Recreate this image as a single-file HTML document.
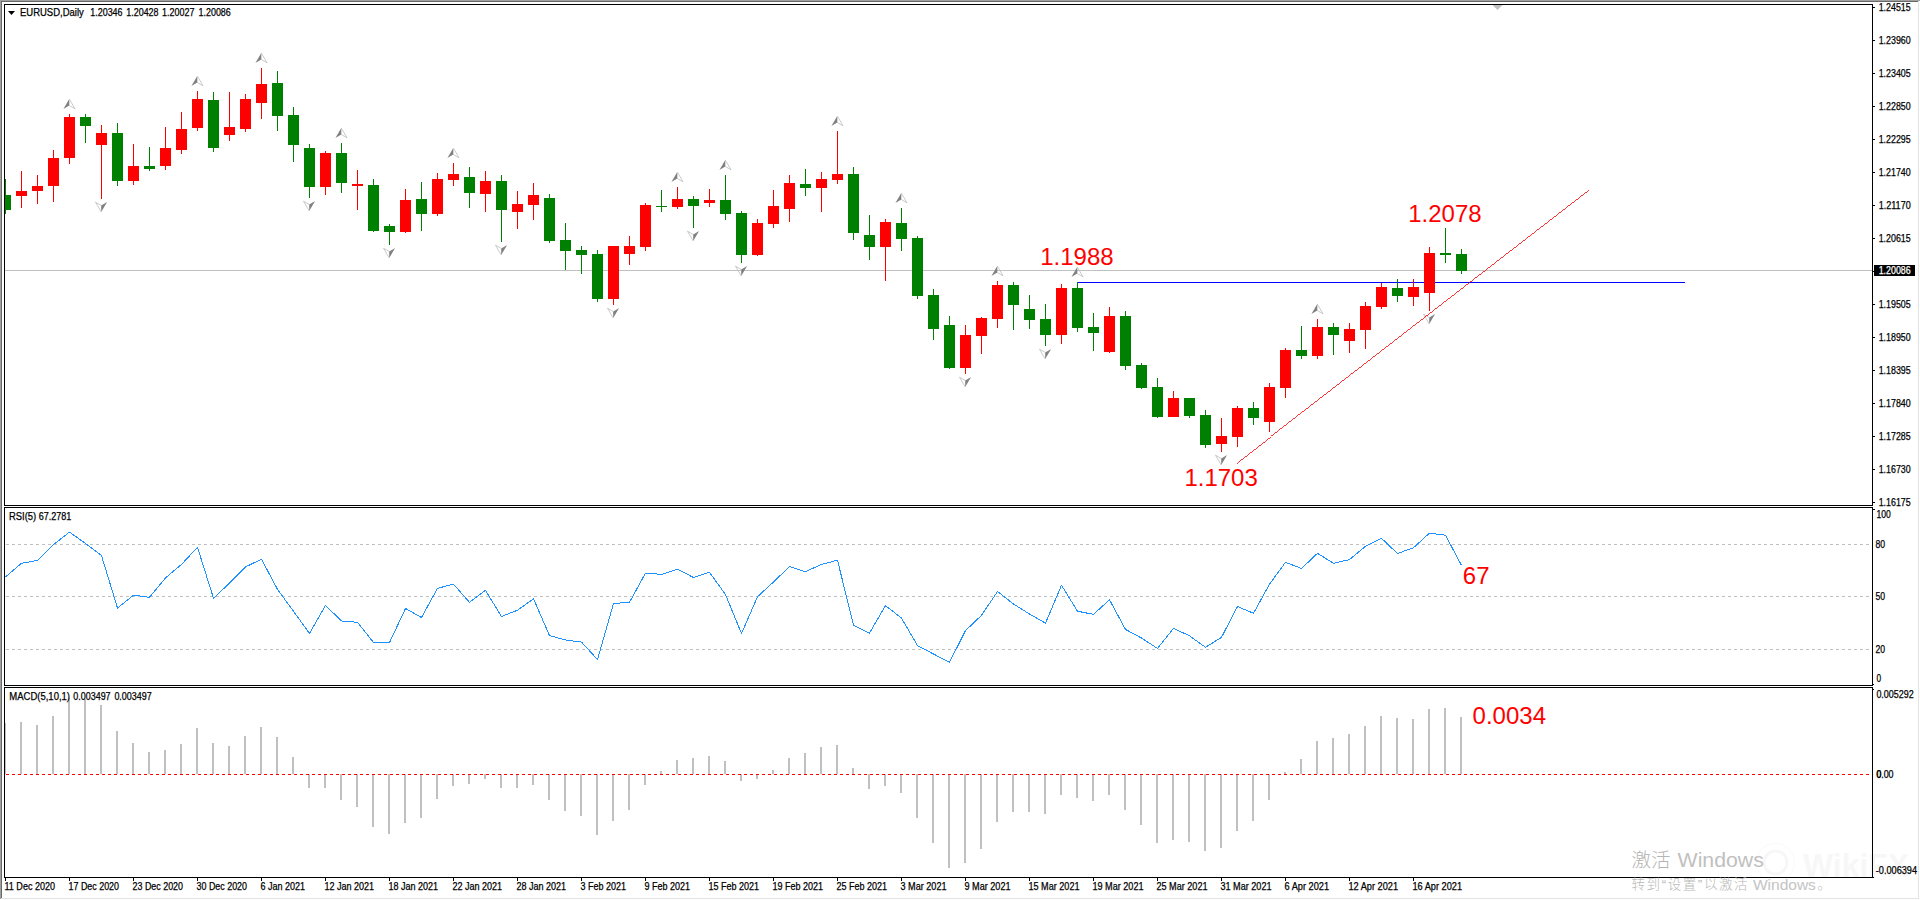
<!DOCTYPE html>
<html lang="zh"><head><meta charset="utf-8"><title>EURUSD,Daily</title>
<style>html,body{margin:0;padding:0;background:#fff;overflow:hidden}body{width:1920px;height:900px;position:relative}</style></head>
<body>
<svg width="1920" height="900" viewBox="0 0 1920 900" style="position:absolute;left:0;top:0">
<rect width="1920" height="900" fill="#fff"/>
<g font-family="'Liberation Sans', sans-serif"><circle cx="1775.5" cy="862.5" r="11.5" fill="none" stroke="#f7f7f7" stroke-width="3"/><circle cx="1775.5" cy="862.5" r="19" fill="none" stroke="#fbfbfb" stroke-width="1.5"/><text x="1803" y="877" font-size="33" font-weight="bold" fill="#f7f7f7" textLength="106" lengthAdjust="spacingAndGlyphs">WikiFX</text></g>
<g shape-rendering="crispEdges">
<rect x="0" y="0" width="1920" height="1" fill="#a0a0a0"/><rect x="0" y="0" width="1" height="899" fill="#a0a0a0"/>
<rect x="1" y="1" width="1918" height="1" fill="#696969"/><rect x="1" y="1" width="1" height="897" fill="#696969"/>
<rect x="1" y="898" width="1918" height="1" fill="#e3e3e3"/><rect x="1918" y="1" width="1" height="898" fill="#e3e3e3"/>
<rect x="5" y="270" width="1867" height="1" fill="#c0c0c0"/>
<polygon points="1492.5,5 1502.5,5 1497.5,10" fill="#c0c0c0" shape-rendering="auto"/>
<rect x="1077" y="282" width="608" height="1" fill="#0000ff"/>
<clipPath id="cm"><rect x="5" y="5" width="1867" height="500"/></clipPath>
<g clip-path="url(#cm)">
<rect x="5" y="179" width="1" height="35" fill="#008000"/><rect x="0" y="195" width="11" height="15" fill="#008000"/>
<rect x="21" y="171" width="1" height="37" fill="#ff0000"/><rect x="16" y="191" width="11" height="5" fill="#ff0000"/>
<rect x="37" y="175" width="1" height="29" fill="#ff0000"/><rect x="32" y="186" width="11" height="5" fill="#ff0000"/>
<rect x="53" y="150" width="1" height="52" fill="#ff0000"/><rect x="48" y="158" width="11" height="28" fill="#ff0000"/>
<rect x="69" y="114" width="1" height="50" fill="#ff0000"/><rect x="64" y="117" width="11" height="41" fill="#ff0000"/>
<rect x="85" y="114" width="1" height="29" fill="#008000"/><rect x="80" y="117" width="11" height="9" fill="#008000"/>
<rect x="101" y="125" width="1" height="74" fill="#ff0000"/><rect x="96" y="133" width="11" height="12" fill="#ff0000"/>
<rect x="117" y="123" width="1" height="63" fill="#008000"/><rect x="112" y="133" width="11" height="48" fill="#008000"/>
<rect x="133" y="144" width="1" height="41" fill="#ff0000"/><rect x="128" y="166" width="11" height="15" fill="#ff0000"/>
<rect x="149" y="147" width="1" height="24" fill="#008000"/><rect x="144" y="166" width="11" height="3" fill="#008000"/>
<rect x="165" y="127" width="1" height="43" fill="#ff0000"/><rect x="160" y="148" width="11" height="18" fill="#ff0000"/>
<rect x="181" y="112" width="1" height="42" fill="#ff0000"/><rect x="176" y="129" width="11" height="21" fill="#ff0000"/>
<rect x="197" y="91" width="1" height="40" fill="#ff0000"/><rect x="192" y="99" width="11" height="29" fill="#ff0000"/>
<rect x="213" y="92" width="1" height="60" fill="#008000"/><rect x="208" y="100" width="11" height="48" fill="#008000"/>
<rect x="229" y="92" width="1" height="49" fill="#ff0000"/><rect x="224" y="127" width="11" height="8" fill="#ff0000"/>
<rect x="245" y="94" width="1" height="38" fill="#ff0000"/><rect x="240" y="99" width="11" height="30" fill="#ff0000"/>
<rect x="261" y="68" width="1" height="51" fill="#ff0000"/><rect x="256" y="84" width="11" height="19" fill="#ff0000"/>
<rect x="277" y="71" width="1" height="60" fill="#008000"/><rect x="272" y="83" width="11" height="33" fill="#008000"/>
<rect x="293" y="107" width="1" height="55" fill="#008000"/><rect x="288" y="115" width="11" height="30" fill="#008000"/>
<rect x="309" y="144" width="1" height="54" fill="#008000"/><rect x="304" y="148" width="11" height="39" fill="#008000"/>
<rect x="325" y="151" width="1" height="44" fill="#ff0000"/><rect x="320" y="153" width="11" height="34" fill="#ff0000"/>
<rect x="341" y="143" width="1" height="50" fill="#008000"/><rect x="336" y="153" width="11" height="30" fill="#008000"/>
<rect x="357" y="170" width="1" height="40" fill="#ff0000"/><rect x="352" y="184" width="11" height="2" fill="#ff0000"/>
<rect x="373" y="179" width="1" height="53" fill="#008000"/><rect x="368" y="185" width="11" height="46" fill="#008000"/>
<rect x="389" y="224" width="1" height="21" fill="#008000"/><rect x="384" y="226" width="11" height="6" fill="#008000"/>
<rect x="405" y="189" width="1" height="44" fill="#ff0000"/><rect x="400" y="200" width="11" height="32" fill="#ff0000"/>
<rect x="421" y="182" width="1" height="49" fill="#008000"/><rect x="416" y="199" width="11" height="15" fill="#008000"/>
<rect x="437" y="173" width="1" height="43" fill="#ff0000"/><rect x="432" y="179" width="11" height="35" fill="#ff0000"/>
<rect x="453" y="163" width="1" height="23" fill="#ff0000"/><rect x="448" y="174" width="11" height="6" fill="#ff0000"/>
<rect x="469" y="167" width="1" height="41" fill="#008000"/><rect x="464" y="177" width="11" height="16" fill="#008000"/>
<rect x="485" y="171" width="1" height="41" fill="#ff0000"/><rect x="480" y="181" width="11" height="13" fill="#ff0000"/>
<rect x="501" y="175" width="1" height="67" fill="#008000"/><rect x="496" y="181" width="11" height="29" fill="#008000"/>
<rect x="517" y="191" width="1" height="38" fill="#ff0000"/><rect x="512" y="204" width="11" height="8" fill="#ff0000"/>
<rect x="533" y="183" width="1" height="37" fill="#ff0000"/><rect x="528" y="195" width="11" height="10" fill="#ff0000"/>
<rect x="549" y="194" width="1" height="49" fill="#008000"/><rect x="544" y="198" width="11" height="43" fill="#008000"/>
<rect x="565" y="223" width="1" height="47" fill="#008000"/><rect x="560" y="240" width="11" height="11" fill="#008000"/>
<rect x="581" y="246" width="1" height="28" fill="#008000"/><rect x="576" y="250" width="11" height="5" fill="#008000"/>
<rect x="597" y="250" width="1" height="52" fill="#008000"/><rect x="592" y="254" width="11" height="45" fill="#008000"/>
<rect x="613" y="246" width="1" height="59" fill="#ff0000"/><rect x="608" y="246" width="11" height="53" fill="#ff0000"/>
<rect x="629" y="236" width="1" height="29" fill="#ff0000"/><rect x="624" y="246" width="11" height="8" fill="#ff0000"/>
<rect x="645" y="203" width="1" height="48" fill="#ff0000"/><rect x="640" y="205" width="11" height="42" fill="#ff0000"/>
<rect x="661" y="190" width="1" height="22" fill="#008000"/><rect x="656" y="206" width="11" height="1" fill="#008000"/>
<rect x="677" y="187" width="1" height="22" fill="#ff0000"/><rect x="672" y="199" width="11" height="8" fill="#ff0000"/>
<rect x="693" y="196" width="1" height="32" fill="#008000"/><rect x="688" y="199" width="11" height="7" fill="#008000"/>
<rect x="709" y="189" width="1" height="18" fill="#ff0000"/><rect x="704" y="200" width="11" height="3" fill="#ff0000"/>
<rect x="725" y="175" width="1" height="45" fill="#008000"/><rect x="720" y="200" width="11" height="14" fill="#008000"/>
<rect x="741" y="211" width="1" height="52" fill="#008000"/><rect x="736" y="213" width="11" height="42" fill="#008000"/>
<rect x="757" y="219" width="1" height="37" fill="#ff0000"/><rect x="752" y="223" width="11" height="32" fill="#ff0000"/>
<rect x="773" y="190" width="1" height="38" fill="#ff0000"/><rect x="768" y="206" width="11" height="18" fill="#ff0000"/>
<rect x="789" y="175" width="1" height="47" fill="#ff0000"/><rect x="784" y="183" width="11" height="26" fill="#ff0000"/>
<rect x="805" y="169" width="1" height="27" fill="#008000"/><rect x="800" y="184" width="11" height="4" fill="#008000"/>
<rect x="821" y="172" width="1" height="40" fill="#ff0000"/><rect x="816" y="179" width="11" height="9" fill="#ff0000"/>
<rect x="837" y="131" width="1" height="53" fill="#ff0000"/><rect x="832" y="174" width="11" height="6" fill="#ff0000"/>
<rect x="853" y="167" width="1" height="73" fill="#008000"/><rect x="848" y="174" width="11" height="59" fill="#008000"/>
<rect x="869" y="215" width="1" height="45" fill="#008000"/><rect x="864" y="235" width="11" height="12" fill="#008000"/>
<rect x="885" y="219" width="1" height="62" fill="#ff0000"/><rect x="880" y="222" width="11" height="25" fill="#ff0000"/>
<rect x="901" y="208" width="1" height="43" fill="#008000"/><rect x="896" y="223" width="11" height="16" fill="#008000"/>
<rect x="917" y="236" width="1" height="63" fill="#008000"/><rect x="912" y="238" width="11" height="58" fill="#008000"/>
<rect x="933" y="289" width="1" height="51" fill="#008000"/><rect x="928" y="295" width="11" height="34" fill="#008000"/>
<rect x="949" y="316" width="1" height="53" fill="#008000"/><rect x="944" y="325" width="11" height="43" fill="#008000"/>
<rect x="965" y="325" width="1" height="49" fill="#ff0000"/><rect x="960" y="335" width="11" height="33" fill="#ff0000"/>
<rect x="981" y="317" width="1" height="37" fill="#ff0000"/><rect x="976" y="318" width="11" height="18" fill="#ff0000"/>
<rect x="997" y="281" width="1" height="47" fill="#ff0000"/><rect x="992" y="285" width="11" height="34" fill="#ff0000"/>
<rect x="1013" y="282" width="1" height="48" fill="#008000"/><rect x="1008" y="285" width="11" height="20" fill="#008000"/>
<rect x="1029" y="295" width="1" height="34" fill="#008000"/><rect x="1024" y="309" width="11" height="11" fill="#008000"/>
<rect x="1045" y="304" width="1" height="42" fill="#008000"/><rect x="1040" y="319" width="11" height="16" fill="#008000"/>
<rect x="1061" y="284" width="1" height="60" fill="#ff0000"/><rect x="1056" y="288" width="11" height="47" fill="#ff0000"/>
<rect x="1077" y="282" width="1" height="50" fill="#008000"/><rect x="1072" y="288" width="11" height="40" fill="#008000"/>
<rect x="1093" y="313" width="1" height="38" fill="#008000"/><rect x="1088" y="327" width="11" height="6" fill="#008000"/>
<rect x="1109" y="307" width="1" height="46" fill="#ff0000"/><rect x="1104" y="316" width="11" height="36" fill="#ff0000"/>
<rect x="1125" y="311" width="1" height="59" fill="#008000"/><rect x="1120" y="316" width="11" height="50" fill="#008000"/>
<rect x="1141" y="363" width="1" height="26" fill="#008000"/><rect x="1136" y="365" width="11" height="23" fill="#008000"/>
<rect x="1157" y="378" width="1" height="40" fill="#008000"/><rect x="1152" y="387" width="11" height="30" fill="#008000"/>
<rect x="1173" y="391" width="1" height="26" fill="#ff0000"/><rect x="1168" y="398" width="11" height="19" fill="#ff0000"/>
<rect x="1189" y="398" width="1" height="20" fill="#008000"/><rect x="1184" y="398" width="11" height="18" fill="#008000"/>
<rect x="1205" y="410" width="1" height="38" fill="#008000"/><rect x="1200" y="415" width="11" height="30" fill="#008000"/>
<rect x="1221" y="418" width="1" height="34" fill="#ff0000"/><rect x="1216" y="436" width="11" height="8" fill="#ff0000"/>
<rect x="1237" y="406" width="1" height="41" fill="#ff0000"/><rect x="1232" y="408" width="11" height="29" fill="#ff0000"/>
<rect x="1253" y="402" width="1" height="23" fill="#008000"/><rect x="1248" y="408" width="11" height="10" fill="#008000"/>
<rect x="1269" y="383" width="1" height="49" fill="#ff0000"/><rect x="1264" y="387" width="11" height="35" fill="#ff0000"/>
<rect x="1285" y="348" width="1" height="50" fill="#ff0000"/><rect x="1280" y="350" width="11" height="38" fill="#ff0000"/>
<rect x="1301" y="326" width="1" height="33" fill="#008000"/><rect x="1296" y="350" width="11" height="6" fill="#008000"/>
<rect x="1317" y="319" width="1" height="40" fill="#ff0000"/><rect x="1312" y="327" width="11" height="29" fill="#ff0000"/>
<rect x="1333" y="323" width="1" height="32" fill="#008000"/><rect x="1328" y="327" width="11" height="8" fill="#008000"/>
<rect x="1349" y="323" width="1" height="30" fill="#ff0000"/><rect x="1344" y="329" width="11" height="12" fill="#ff0000"/>
<rect x="1365" y="302" width="1" height="47" fill="#ff0000"/><rect x="1360" y="306" width="11" height="24" fill="#ff0000"/>
<rect x="1381" y="283" width="1" height="26" fill="#ff0000"/><rect x="1376" y="287" width="11" height="20" fill="#ff0000"/>
<rect x="1397" y="279" width="1" height="23" fill="#008000"/><rect x="1392" y="288" width="11" height="8" fill="#008000"/>
<rect x="1413" y="279" width="1" height="27" fill="#ff0000"/><rect x="1408" y="287" width="11" height="10" fill="#ff0000"/>
<rect x="1429" y="247" width="1" height="64" fill="#ff0000"/><rect x="1424" y="253" width="11" height="40" fill="#ff0000"/>
<rect x="1445" y="228" width="1" height="35" fill="#008000"/><rect x="1440" y="253" width="11" height="2" fill="#008000"/>
<rect x="1461" y="249" width="1" height="25" fill="#008000"/><rect x="1456" y="254" width="11" height="17" fill="#008000"/>
</g>
<rect x="5" y="723" width="1" height="51" fill="#c0c0c0"/>
<rect x="20" y="722" width="2" height="52" fill="#c0c0c0"/>
<rect x="36" y="725" width="2" height="49" fill="#c0c0c0"/>
<rect x="52" y="716" width="2" height="58" fill="#c0c0c0"/>
<rect x="68" y="698" width="2" height="76" fill="#c0c0c0"/>
<rect x="84" y="699" width="2" height="75" fill="#c0c0c0"/>
<rect x="100" y="705" width="2" height="69" fill="#c0c0c0"/>
<rect x="116" y="731" width="2" height="43" fill="#c0c0c0"/>
<rect x="132" y="743" width="2" height="31" fill="#c0c0c0"/>
<rect x="148" y="752" width="2" height="22" fill="#c0c0c0"/>
<rect x="164" y="750" width="2" height="24" fill="#c0c0c0"/>
<rect x="180" y="744" width="2" height="30" fill="#c0c0c0"/>
<rect x="196" y="728" width="2" height="46" fill="#c0c0c0"/>
<rect x="212" y="743" width="2" height="31" fill="#c0c0c0"/>
<rect x="228" y="746" width="2" height="28" fill="#c0c0c0"/>
<rect x="244" y="736" width="2" height="38" fill="#c0c0c0"/>
<rect x="260" y="727" width="2" height="47" fill="#c0c0c0"/>
<rect x="276" y="737" width="2" height="37" fill="#c0c0c0"/>
<rect x="292" y="757" width="2" height="17" fill="#c0c0c0"/>
<rect x="308" y="774" width="2" height="14" fill="#c0c0c0"/>
<rect x="324" y="774" width="2" height="14" fill="#c0c0c0"/>
<rect x="340" y="774" width="2" height="26" fill="#c0c0c0"/>
<rect x="356" y="774" width="2" height="33" fill="#c0c0c0"/>
<rect x="372" y="774" width="2" height="53" fill="#c0c0c0"/>
<rect x="388" y="774" width="2" height="60" fill="#c0c0c0"/>
<rect x="404" y="774" width="2" height="49" fill="#c0c0c0"/>
<rect x="420" y="774" width="2" height="44" fill="#c0c0c0"/>
<rect x="436" y="774" width="2" height="25" fill="#c0c0c0"/>
<rect x="452" y="774" width="2" height="12" fill="#c0c0c0"/>
<rect x="468" y="774" width="2" height="10" fill="#c0c0c0"/>
<rect x="484" y="774" width="2" height="5" fill="#c0c0c0"/>
<rect x="500" y="774" width="2" height="14" fill="#c0c0c0"/>
<rect x="516" y="774" width="2" height="14" fill="#c0c0c0"/>
<rect x="532" y="774" width="2" height="11" fill="#c0c0c0"/>
<rect x="548" y="774" width="2" height="26" fill="#c0c0c0"/>
<rect x="564" y="774" width="2" height="37" fill="#c0c0c0"/>
<rect x="580" y="774" width="2" height="42" fill="#c0c0c0"/>
<rect x="596" y="774" width="2" height="61" fill="#c0c0c0"/>
<rect x="612" y="774" width="2" height="47" fill="#c0c0c0"/>
<rect x="628" y="774" width="2" height="36" fill="#c0c0c0"/>
<rect x="644" y="774" width="2" height="11" fill="#c0c0c0"/>
<rect x="660" y="771" width="2" height="3" fill="#c0c0c0"/>
<rect x="676" y="760" width="2" height="14" fill="#c0c0c0"/>
<rect x="692" y="758" width="2" height="16" fill="#c0c0c0"/>
<rect x="708" y="756" width="2" height="18" fill="#c0c0c0"/>
<rect x="724" y="761" width="2" height="13" fill="#c0c0c0"/>
<rect x="740" y="774" width="2" height="7" fill="#c0c0c0"/>
<rect x="756" y="774" width="2" height="5" fill="#c0c0c0"/>
<rect x="772" y="770" width="2" height="4" fill="#c0c0c0"/>
<rect x="788" y="758" width="2" height="16" fill="#c0c0c0"/>
<rect x="804" y="753" width="2" height="21" fill="#c0c0c0"/>
<rect x="820" y="747" width="2" height="27" fill="#c0c0c0"/>
<rect x="836" y="745" width="2" height="29" fill="#c0c0c0"/>
<rect x="852" y="768" width="2" height="6" fill="#c0c0c0"/>
<rect x="868" y="774" width="2" height="15" fill="#c0c0c0"/>
<rect x="884" y="774" width="2" height="12" fill="#c0c0c0"/>
<rect x="900" y="774" width="2" height="19" fill="#c0c0c0"/>
<rect x="916" y="774" width="2" height="44" fill="#c0c0c0"/>
<rect x="932" y="774" width="2" height="69" fill="#c0c0c0"/>
<rect x="948" y="774" width="2" height="94" fill="#c0c0c0"/>
<rect x="964" y="774" width="2" height="89" fill="#c0c0c0"/>
<rect x="980" y="774" width="2" height="75" fill="#c0c0c0"/>
<rect x="996" y="774" width="2" height="48" fill="#c0c0c0"/>
<rect x="1012" y="774" width="2" height="38" fill="#c0c0c0"/>
<rect x="1028" y="774" width="2" height="38" fill="#c0c0c0"/>
<rect x="1044" y="774" width="2" height="40" fill="#c0c0c0"/>
<rect x="1060" y="774" width="2" height="21" fill="#c0c0c0"/>
<rect x="1076" y="774" width="2" height="24" fill="#c0c0c0"/>
<rect x="1092" y="774" width="2" height="27" fill="#c0c0c0"/>
<rect x="1108" y="774" width="2" height="21" fill="#c0c0c0"/>
<rect x="1124" y="774" width="2" height="36" fill="#c0c0c0"/>
<rect x="1140" y="774" width="2" height="51" fill="#c0c0c0"/>
<rect x="1156" y="774" width="2" height="69" fill="#c0c0c0"/>
<rect x="1172" y="774" width="2" height="66" fill="#c0c0c0"/>
<rect x="1188" y="774" width="2" height="68" fill="#c0c0c0"/>
<rect x="1204" y="774" width="2" height="77" fill="#c0c0c0"/>
<rect x="1220" y="774" width="2" height="74" fill="#c0c0c0"/>
<rect x="1236" y="774" width="2" height="57" fill="#c0c0c0"/>
<rect x="1252" y="774" width="2" height="47" fill="#c0c0c0"/>
<rect x="1268" y="774" width="2" height="26" fill="#c0c0c0"/>
<rect x="1284" y="772" width="2" height="2" fill="#c0c0c0"/>
<rect x="1300" y="759" width="2" height="15" fill="#c0c0c0"/>
<rect x="1316" y="741" width="2" height="33" fill="#c0c0c0"/>
<rect x="1332" y="738" width="2" height="36" fill="#c0c0c0"/>
<rect x="1348" y="734" width="2" height="40" fill="#c0c0c0"/>
<rect x="1364" y="726" width="2" height="48" fill="#c0c0c0"/>
<rect x="1380" y="716" width="2" height="58" fill="#c0c0c0"/>
<rect x="1396" y="718" width="2" height="56" fill="#c0c0c0"/>
<rect x="1412" y="719" width="2" height="55" fill="#c0c0c0"/>
<rect x="1428" y="709" width="2" height="65" fill="#c0c0c0"/>
<rect x="1444" y="708" width="2" height="66" fill="#c0c0c0"/>
<rect x="1460" y="717" width="2" height="57" fill="#c0c0c0"/>
<line x1="6" y1="544.5" x2="1872" y2="544.5" stroke="#c0c0c0" stroke-width="1" stroke-dasharray="3 3"/>
<line x1="6" y1="596.5" x2="1872" y2="596.5" stroke="#c0c0c0" stroke-width="1" stroke-dasharray="3 3"/>
<line x1="6" y1="649.5" x2="1872" y2="649.5" stroke="#c0c0c0" stroke-width="1" stroke-dasharray="3 3"/>
<line x1="6" y1="774.5" x2="1872" y2="774.5" stroke="#ff0000" stroke-width="1" stroke-dasharray="3 3"/>
<rect x="4" y="4" width="1869" height="1" fill="#000"/><rect x="4" y="505" width="1869" height="1" fill="#000"/><rect x="4" y="4" width="1" height="502" fill="#000"/><rect x="1872" y="4" width="1" height="502" fill="#000"/>
<rect x="4" y="507" width="1869" height="1" fill="#000"/><rect x="4" y="685" width="1869" height="1" fill="#000"/><rect x="4" y="507" width="1" height="179" fill="#000"/><rect x="1872" y="507" width="1" height="179" fill="#000"/>
<rect x="4" y="687" width="1869" height="1" fill="#000"/><rect x="4" y="877" width="1869" height="1" fill="#000"/><rect x="4" y="687" width="1" height="191" fill="#000"/><rect x="1872" y="687" width="1" height="191" fill="#000"/>
<rect x="1873" y="7" width="2" height="1" fill="#000"/>
<rect x="1873" y="40" width="2" height="1" fill="#000"/>
<rect x="1873" y="73" width="2" height="1" fill="#000"/>
<rect x="1873" y="106" width="2" height="1" fill="#000"/>
<rect x="1873" y="139" width="2" height="1" fill="#000"/>
<rect x="1873" y="172" width="2" height="1" fill="#000"/>
<rect x="1873" y="205" width="2" height="1" fill="#000"/>
<rect x="1873" y="238" width="2" height="1" fill="#000"/>
<rect x="1873" y="304" width="2" height="1" fill="#000"/>
<rect x="1873" y="337" width="2" height="1" fill="#000"/>
<rect x="1873" y="370" width="2" height="1" fill="#000"/>
<rect x="1873" y="403" width="2" height="1" fill="#000"/>
<rect x="1873" y="436" width="2" height="1" fill="#000"/>
<rect x="1873" y="469" width="2" height="1" fill="#000"/>
<rect x="1873" y="502" width="2" height="1" fill="#000"/>
<rect x="1873" y="509" width="2" height="1" fill="#000"/><rect x="1873" y="877" width="1" height="1" fill="#000"/><rect x="1873" y="684" width="1" height="1" fill="#000"/><rect x="1873" y="689" width="1" height="1" fill="#000"/><rect x="1873" y="271" width="1" height="1" fill="#000"/>
<rect x="5" y="878" width="1" height="3" fill="#000"/>
<rect x="69" y="878" width="1" height="3" fill="#000"/>
<rect x="133" y="878" width="1" height="3" fill="#000"/>
<rect x="197" y="878" width="1" height="3" fill="#000"/>
<rect x="261" y="878" width="1" height="3" fill="#000"/>
<rect x="325" y="878" width="1" height="3" fill="#000"/>
<rect x="389" y="878" width="1" height="3" fill="#000"/>
<rect x="453" y="878" width="1" height="3" fill="#000"/>
<rect x="517" y="878" width="1" height="3" fill="#000"/>
<rect x="581" y="878" width="1" height="3" fill="#000"/>
<rect x="645" y="878" width="1" height="3" fill="#000"/>
<rect x="709" y="878" width="1" height="3" fill="#000"/>
<rect x="773" y="878" width="1" height="3" fill="#000"/>
<rect x="837" y="878" width="1" height="3" fill="#000"/>
<rect x="901" y="878" width="1" height="3" fill="#000"/>
<rect x="965" y="878" width="1" height="3" fill="#000"/>
<rect x="1029" y="878" width="1" height="3" fill="#000"/>
<rect x="1093" y="878" width="1" height="3" fill="#000"/>
<rect x="1157" y="878" width="1" height="3" fill="#000"/>
<rect x="1221" y="878" width="1" height="3" fill="#000"/>
<rect x="1285" y="878" width="1" height="3" fill="#000"/>
<rect x="1349" y="878" width="1" height="3" fill="#000"/>
<rect x="1413" y="878" width="1" height="3" fill="#000"/>
<rect x="1874" y="265" width="41" height="11" fill="#000"/>
</g>
<polygon points="69.3,99 63.4,109 69.3,105.5" fill="#808080"/>
<polyline points="69.3,99 75.0,108.8 69.3,105.5" fill="none" stroke="#b8b8b8" stroke-width="0.75"/>
<polygon points="197.3,76 191.4,86 197.3,82.5" fill="#808080"/>
<polyline points="197.3,76 203.0,85.8 197.3,82.5" fill="none" stroke="#b8b8b8" stroke-width="0.75"/>
<polygon points="261.3,53 255.4,63 261.3,59.5" fill="#808080"/>
<polyline points="261.3,53 267.0,62.8 261.3,59.5" fill="none" stroke="#b8b8b8" stroke-width="0.75"/>
<polygon points="341.3,128 335.40000000000003,138 341.3,134.5" fill="#808080"/>
<polyline points="341.3,128 347.0,137.8 341.3,134.5" fill="none" stroke="#b8b8b8" stroke-width="0.75"/>
<polygon points="453.3,148 447.40000000000003,158 453.3,154.5" fill="#808080"/>
<polyline points="453.3,148 459.0,157.8 453.3,154.5" fill="none" stroke="#b8b8b8" stroke-width="0.75"/>
<polygon points="677.3,172 671.4,182 677.3,178.5" fill="#808080"/>
<polyline points="677.3,172 683.0,181.8 677.3,178.5" fill="none" stroke="#b8b8b8" stroke-width="0.75"/>
<polygon points="725.3,160 719.4,170 725.3,166.5" fill="#808080"/>
<polyline points="725.3,160 731.0,169.8 725.3,166.5" fill="none" stroke="#b8b8b8" stroke-width="0.75"/>
<polygon points="837.3,116 831.4,126 837.3,122.5" fill="#808080"/>
<polyline points="837.3,116 843.0,125.8 837.3,122.5" fill="none" stroke="#b8b8b8" stroke-width="0.75"/>
<polygon points="901.3,193 895.4,203 901.3,199.5" fill="#808080"/>
<polyline points="901.3,193 907.0,202.8 901.3,199.5" fill="none" stroke="#b8b8b8" stroke-width="0.75"/>
<polygon points="997.3,266 991.4,276 997.3,272.5" fill="#808080"/>
<polyline points="997.3,266 1003.0,275.8 997.3,272.5" fill="none" stroke="#b8b8b8" stroke-width="0.75"/>
<polygon points="1077.3,267 1071.3999999999999,277 1077.3,273.5" fill="#808080"/>
<polyline points="1077.3,267 1083.0,276.8 1077.3,273.5" fill="none" stroke="#b8b8b8" stroke-width="0.75"/>
<polygon points="1317.3,304 1311.3999999999999,314 1317.3,310.5" fill="#808080"/>
<polyline points="1317.3,304 1323.0,313.8 1317.3,310.5" fill="none" stroke="#b8b8b8" stroke-width="0.75"/>
<polygon points="101.2,212 107.10000000000001,202 101.2,205.5" fill="#808080"/>
<polyline points="101.2,212 95.5,202.2 101.2,205.5" fill="none" stroke="#b8b8b8" stroke-width="0.75"/>
<polygon points="309.2,211 315.09999999999997,201 309.2,204.5" fill="#808080"/>
<polyline points="309.2,211 303.5,201.2 309.2,204.5" fill="none" stroke="#b8b8b8" stroke-width="0.75"/>
<polygon points="389.2,258 395.09999999999997,248 389.2,251.5" fill="#808080"/>
<polyline points="389.2,258 383.5,248.2 389.2,251.5" fill="none" stroke="#b8b8b8" stroke-width="0.75"/>
<polygon points="501.2,255 507.09999999999997,245 501.2,248.5" fill="#808080"/>
<polyline points="501.2,255 495.5,245.2 501.2,248.5" fill="none" stroke="#b8b8b8" stroke-width="0.75"/>
<polygon points="613.2,318 619.1,308 613.2,311.5" fill="#808080"/>
<polyline points="613.2,318 607.5,308.2 613.2,311.5" fill="none" stroke="#b8b8b8" stroke-width="0.75"/>
<polygon points="693.2,241 699.1,231 693.2,234.5" fill="#808080"/>
<polyline points="693.2,241 687.5,231.2 693.2,234.5" fill="none" stroke="#b8b8b8" stroke-width="0.75"/>
<polygon points="741.2,276 747.1,266 741.2,269.5" fill="#808080"/>
<polyline points="741.2,276 735.5,266.2 741.2,269.5" fill="none" stroke="#b8b8b8" stroke-width="0.75"/>
<polygon points="965.2,387 971.1,377 965.2,380.5" fill="#808080"/>
<polyline points="965.2,387 959.5,377.2 965.2,380.5" fill="none" stroke="#b8b8b8" stroke-width="0.75"/>
<polygon points="1045.2,359 1051.1000000000001,349 1045.2,352.5" fill="#808080"/>
<polyline points="1045.2,359 1039.5,349.2 1045.2,352.5" fill="none" stroke="#b8b8b8" stroke-width="0.75"/>
<polygon points="1221.2,465 1227.1000000000001,455 1221.2,458.5" fill="#808080"/>
<polyline points="1221.2,465 1215.5,455.2 1221.2,458.5" fill="none" stroke="#b8b8b8" stroke-width="0.75"/>
<polygon points="1429.2,324 1435.1000000000001,314 1429.2,317.5" fill="#808080"/>
<polyline points="1429.2,324 1423.5,314.2 1429.2,317.5" fill="none" stroke="#b8b8b8" stroke-width="0.75"/>
<line x1="1236.5" y1="463" x2="1588.5" y2="190.5" stroke="#ff0000" stroke-width="0.8" shape-rendering="crispEdges"/>
<polyline points="5.5,576.9 21.5,563.3 37.5,560.4 53.5,544.6 69.5,532.1 85.5,543.5 101.5,555.6 117.5,608.1 133.5,595.2 149.5,597.3 165.5,577.9 181.5,564.4 197.5,547.3 213.5,598.3 229.5,583.1 245.5,566.9 261.5,559.2 277.5,589.4 293.5,611.3 309.5,633.5 325.5,605.4 341.5,621.0 357.5,622.3 373.5,642.5 389.5,642.5 405.5,608.5 421.5,617.5 437.5,588.3 453.5,584.2 469.5,602.3 485.5,590.4 501.5,616.5 517.5,610.2 533.5,598.8 549.5,635.6 565.5,640.0 581.5,642.1 597.5,659.6 613.5,603.5 629.5,602.3 645.5,573.1 661.5,574.4 677.5,569.2 693.5,577.5 709.5,572.3 725.5,594.6 741.5,633.5 757.5,596.7 773.5,582.0 789.5,566.5 805.5,571.7 821.5,564.4 837.5,560.2 853.5,625.2 869.5,633.1 885.5,605.6 901.5,618.1 917.5,645.6 933.5,654.0 949.5,662.3 965.5,630.6 981.5,615.4 997.5,591.5 1013.5,604.0 1029.5,614.0 1045.5,623.1 1061.5,585.2 1077.5,611.2 1093.5,614.4 1109.5,599.8 1125.5,629.4 1141.5,638.0 1157.5,648.5 1173.5,628.3 1189.5,635.8 1205.5,647.3 1221.5,637.3 1237.5,606.5 1253.5,613.3 1269.5,584.2 1285.5,562.3 1301.5,568.5 1317.5,553.3 1333.5,563.3 1349.5,559.6 1365.5,546.2 1381.5,538.3 1397.5,553.5 1413.5,547.7 1429.5,533.1 1445.5,535.2 1461.5,565.4" fill="none" stroke="#1e90ff" stroke-width="1" stroke-linejoin="round" shape-rendering="crispEdges"/>
<g font-family="'Liberation Sans', sans-serif">
<polygon points="8,11 15,11 11.5,15" fill="#000"/>
<text x="20" y="16" font-size="10" fill="#000" text-anchor="start" textLength="63.75" lengthAdjust="spacingAndGlyphs"  stroke="#000" stroke-width="0.25">EURUSD,Daily</text>
<text x="90.25" y="16" font-size="10" fill="#000" text-anchor="start" textLength="32.3" lengthAdjust="spacingAndGlyphs"  stroke="#000" stroke-width="0.25">1.20346</text>
<text x="126.25" y="16" font-size="10" fill="#000" text-anchor="start" textLength="32.3" lengthAdjust="spacingAndGlyphs"  stroke="#000" stroke-width="0.25">1.20428</text>
<text x="162.1" y="16" font-size="10" fill="#000" text-anchor="start" textLength="32.3" lengthAdjust="spacingAndGlyphs"  stroke="#000" stroke-width="0.25">1.20027</text>
<text x="198.5" y="16" font-size="10" fill="#000" text-anchor="start" textLength="32.3" lengthAdjust="spacingAndGlyphs"  stroke="#000" stroke-width="0.25">1.20086</text>
<text x="9.0" y="520" font-size="10" fill="#000" text-anchor="start" textLength="27.2" lengthAdjust="spacingAndGlyphs"  stroke="#000" stroke-width="0.25">RSI(5)</text>
<text x="38.8" y="520" font-size="10" fill="#000" text-anchor="start" textLength="32.6" lengthAdjust="spacingAndGlyphs"  stroke="#000" stroke-width="0.25">67.2781</text>
<text x="9.3" y="700" font-size="10" fill="#000" text-anchor="start" textLength="60.7" lengthAdjust="spacingAndGlyphs"  stroke="#000" stroke-width="0.25">MACD(5,10,1)</text>
<text x="73.3" y="700" font-size="10" fill="#000" text-anchor="start" textLength="37.3" lengthAdjust="spacingAndGlyphs"  stroke="#000" stroke-width="0.25">0.003497</text>
<text x="114.4" y="700" font-size="10" fill="#000" text-anchor="start" textLength="37.3" lengthAdjust="spacingAndGlyphs"  stroke="#000" stroke-width="0.25">0.003497</text>
<text x="1878.7" y="11" font-size="10" fill="#000" text-anchor="start" textLength="32" lengthAdjust="spacingAndGlyphs"  stroke="#000" stroke-width="0.25">1.24515</text>
<text x="1878.7" y="44" font-size="10" fill="#000" text-anchor="start" textLength="32" lengthAdjust="spacingAndGlyphs"  stroke="#000" stroke-width="0.25">1.23960</text>
<text x="1878.7" y="77" font-size="10" fill="#000" text-anchor="start" textLength="32" lengthAdjust="spacingAndGlyphs"  stroke="#000" stroke-width="0.25">1.23405</text>
<text x="1878.7" y="110" font-size="10" fill="#000" text-anchor="start" textLength="32" lengthAdjust="spacingAndGlyphs"  stroke="#000" stroke-width="0.25">1.22850</text>
<text x="1878.7" y="143" font-size="10" fill="#000" text-anchor="start" textLength="32" lengthAdjust="spacingAndGlyphs"  stroke="#000" stroke-width="0.25">1.22295</text>
<text x="1878.7" y="176" font-size="10" fill="#000" text-anchor="start" textLength="32" lengthAdjust="spacingAndGlyphs"  stroke="#000" stroke-width="0.25">1.21740</text>
<text x="1878.7" y="209" font-size="10" fill="#000" text-anchor="start" textLength="32" lengthAdjust="spacingAndGlyphs"  stroke="#000" stroke-width="0.25">1.21170</text>
<text x="1878.7" y="242" font-size="10" fill="#000" text-anchor="start" textLength="32" lengthAdjust="spacingAndGlyphs"  stroke="#000" stroke-width="0.25">1.20615</text>
<text x="1878.7" y="308" font-size="10" fill="#000" text-anchor="start" textLength="32" lengthAdjust="spacingAndGlyphs"  stroke="#000" stroke-width="0.25">1.19505</text>
<text x="1878.7" y="341" font-size="10" fill="#000" text-anchor="start" textLength="32" lengthAdjust="spacingAndGlyphs"  stroke="#000" stroke-width="0.25">1.18950</text>
<text x="1878.7" y="374" font-size="10" fill="#000" text-anchor="start" textLength="32" lengthAdjust="spacingAndGlyphs"  stroke="#000" stroke-width="0.25">1.18395</text>
<text x="1878.7" y="407" font-size="10" fill="#000" text-anchor="start" textLength="32" lengthAdjust="spacingAndGlyphs"  stroke="#000" stroke-width="0.25">1.17840</text>
<text x="1878.7" y="440" font-size="10" fill="#000" text-anchor="start" textLength="32" lengthAdjust="spacingAndGlyphs"  stroke="#000" stroke-width="0.25">1.17285</text>
<text x="1878.7" y="473" font-size="10" fill="#000" text-anchor="start" textLength="32" lengthAdjust="spacingAndGlyphs"  stroke="#000" stroke-width="0.25">1.16730</text>
<text x="1878.7" y="506" font-size="10" fill="#000" text-anchor="start" textLength="32" lengthAdjust="spacingAndGlyphs"  stroke="#000" stroke-width="0.25">1.16175</text>
<text x="1878.7" y="274" font-size="10" fill="#fff" text-anchor="start" textLength="32" lengthAdjust="spacingAndGlyphs"  stroke="#fff" stroke-width="0.25">1.20086</text>
<text x="1876.5" y="518" font-size="10" fill="#000" text-anchor="start" textLength="14.3" lengthAdjust="spacingAndGlyphs"  stroke="#000" stroke-width="0.25">100</text>
<text x="1875.4" y="548" font-size="10" fill="#000" text-anchor="start" textLength="9.6" lengthAdjust="spacingAndGlyphs"  stroke="#000" stroke-width="0.25">80</text>
<text x="1875.4" y="600" font-size="10" fill="#000" text-anchor="start" textLength="9.6" lengthAdjust="spacingAndGlyphs"  stroke="#000" stroke-width="0.25">50</text>
<text x="1875.4" y="653" font-size="10" fill="#000" text-anchor="start" textLength="9.6" lengthAdjust="spacingAndGlyphs"  stroke="#000" stroke-width="0.25">20</text>
<text x="1876.5" y="682" font-size="10" fill="#000" text-anchor="start" textLength="4.6" lengthAdjust="spacingAndGlyphs"  stroke="#000" stroke-width="0.25">0</text>
<text x="1876.4" y="698" font-size="10" fill="#000" text-anchor="start" textLength="37.3" lengthAdjust="spacingAndGlyphs"  stroke="#000" stroke-width="0.25">0.005292</text>
<text x="1876.2" y="778" font-size="10" fill="#000" text-anchor="start" textLength="17.4" lengthAdjust="spacingAndGlyphs"  stroke="#000" stroke-width="0.25">0.00</text>
<text x="1876.8" y="778" font-size="10" fill="#000" text-anchor="start" textLength="4.6" lengthAdjust="spacingAndGlyphs"  stroke="#000" stroke-width="0.25">0</text>
<text x="1875.8" y="874" font-size="10" fill="#000" text-anchor="start" textLength="41.2" lengthAdjust="spacingAndGlyphs"  stroke="#000" stroke-width="0.25">-0.006394</text>
<text x="4.5" y="890" font-size="10" fill="#000" text-anchor="start" textLength="50.5" lengthAdjust="spacingAndGlyphs"  stroke="#000" stroke-width="0.25">11 Dec 2020</text>
<text x="68.5" y="890" font-size="10" fill="#000" text-anchor="start" textLength="50.5" lengthAdjust="spacingAndGlyphs"  stroke="#000" stroke-width="0.25">17 Dec 2020</text>
<text x="132.5" y="890" font-size="10" fill="#000" text-anchor="start" textLength="50.5" lengthAdjust="spacingAndGlyphs"  stroke="#000" stroke-width="0.25">23 Dec 2020</text>
<text x="196.5" y="890" font-size="10" fill="#000" text-anchor="start" textLength="50.5" lengthAdjust="spacingAndGlyphs"  stroke="#000" stroke-width="0.25">30 Dec 2020</text>
<text x="260.5" y="890" font-size="10" fill="#000" text-anchor="start" textLength="44.5" lengthAdjust="spacingAndGlyphs"  stroke="#000" stroke-width="0.25">6 Jan 2021</text>
<text x="324.5" y="890" font-size="10" fill="#000" text-anchor="start" textLength="49.5" lengthAdjust="spacingAndGlyphs"  stroke="#000" stroke-width="0.25">12 Jan 2021</text>
<text x="388.5" y="890" font-size="10" fill="#000" text-anchor="start" textLength="49.5" lengthAdjust="spacingAndGlyphs"  stroke="#000" stroke-width="0.25">18 Jan 2021</text>
<text x="452.5" y="890" font-size="10" fill="#000" text-anchor="start" textLength="49.5" lengthAdjust="spacingAndGlyphs"  stroke="#000" stroke-width="0.25">22 Jan 2021</text>
<text x="516.5" y="890" font-size="10" fill="#000" text-anchor="start" textLength="49.5" lengthAdjust="spacingAndGlyphs"  stroke="#000" stroke-width="0.25">28 Jan 2021</text>
<text x="580.5" y="890" font-size="10" fill="#000" text-anchor="start" textLength="45.5" lengthAdjust="spacingAndGlyphs"  stroke="#000" stroke-width="0.25">3 Feb 2021</text>
<text x="644.5" y="890" font-size="10" fill="#000" text-anchor="start" textLength="45.5" lengthAdjust="spacingAndGlyphs"  stroke="#000" stroke-width="0.25">9 Feb 2021</text>
<text x="708.5" y="890" font-size="10" fill="#000" text-anchor="start" textLength="50.5" lengthAdjust="spacingAndGlyphs"  stroke="#000" stroke-width="0.25">15 Feb 2021</text>
<text x="772.5" y="890" font-size="10" fill="#000" text-anchor="start" textLength="50.5" lengthAdjust="spacingAndGlyphs"  stroke="#000" stroke-width="0.25">19 Feb 2021</text>
<text x="836.5" y="890" font-size="10" fill="#000" text-anchor="start" textLength="50.5" lengthAdjust="spacingAndGlyphs"  stroke="#000" stroke-width="0.25">25 Feb 2021</text>
<text x="900.5" y="890" font-size="10" fill="#000" text-anchor="start" textLength="46.0" lengthAdjust="spacingAndGlyphs"  stroke="#000" stroke-width="0.25">3 Mar 2021</text>
<text x="964.5" y="890" font-size="10" fill="#000" text-anchor="start" textLength="46.0" lengthAdjust="spacingAndGlyphs"  stroke="#000" stroke-width="0.25">9 Mar 2021</text>
<text x="1028.5" y="890" font-size="10" fill="#000" text-anchor="start" textLength="51.0" lengthAdjust="spacingAndGlyphs"  stroke="#000" stroke-width="0.25">15 Mar 2021</text>
<text x="1092.5" y="890" font-size="10" fill="#000" text-anchor="start" textLength="51.0" lengthAdjust="spacingAndGlyphs"  stroke="#000" stroke-width="0.25">19 Mar 2021</text>
<text x="1156.5" y="890" font-size="10" fill="#000" text-anchor="start" textLength="51.0" lengthAdjust="spacingAndGlyphs"  stroke="#000" stroke-width="0.25">25 Mar 2021</text>
<text x="1220.5" y="890" font-size="10" fill="#000" text-anchor="start" textLength="51.0" lengthAdjust="spacingAndGlyphs"  stroke="#000" stroke-width="0.25">31 Mar 2021</text>
<text x="1284.5" y="890" font-size="10" fill="#000" text-anchor="start" textLength="44.5" lengthAdjust="spacingAndGlyphs"  stroke="#000" stroke-width="0.25">6 Apr 2021</text>
<text x="1348.5" y="890" font-size="10" fill="#000" text-anchor="start" textLength="49.5" lengthAdjust="spacingAndGlyphs"  stroke="#000" stroke-width="0.25">12 Apr 2021</text>
<text x="1412.5" y="890" font-size="10" fill="#000" text-anchor="start" textLength="49.5" lengthAdjust="spacingAndGlyphs"  stroke="#000" stroke-width="0.25">16 Apr 2021</text>
<text x="1040.2" y="265.3" font-size="24" fill="#ff0000" text-anchor="start" >1.1988</text>
<text x="1184.4" y="486" font-size="24" fill="#ff0000" text-anchor="start" >1.1703</text>
<text x="1408.2" y="222" font-size="24" fill="#ff0000" text-anchor="start" >1.2078</text>
<text x="1462.8" y="583.8" font-size="24" fill="#ff0000" text-anchor="start" >67</text>
<text x="1472.6" y="723.9" font-size="24" fill="#ff0000" text-anchor="start" >0.0034</text>
</g>
<g font-family="'Liberation Sans', 'Noto Sans CJK SC', sans-serif">
<text x="1631.5" y="867" font-size="19.5" fill="#b4b4b4" font-weight="300" textLength="39" lengthAdjust="spacing">激活</text>
<text x="1677.6" y="866.8" font-size="21" fill="#c0c0c0" font-weight="300" textLength="86.2" lengthAdjust="spacingAndGlyphs">Windows</text>
<text x="1631.5" y="889.3" font-size="13.5" fill="#b8b8b8" font-weight="300" textLength="116" lengthAdjust="spacing">转到“设置”以激活</text>
<text x="1752.9" y="889.5" font-size="14.5" fill="#c4c4c4" font-weight="300" textLength="63" lengthAdjust="spacingAndGlyphs">Windows</text>
<text x="1817.5" y="889.3" font-size="13.5" fill="#c2c2c2" font-weight="300">。</text>
</g>
</svg>
</body></html>
